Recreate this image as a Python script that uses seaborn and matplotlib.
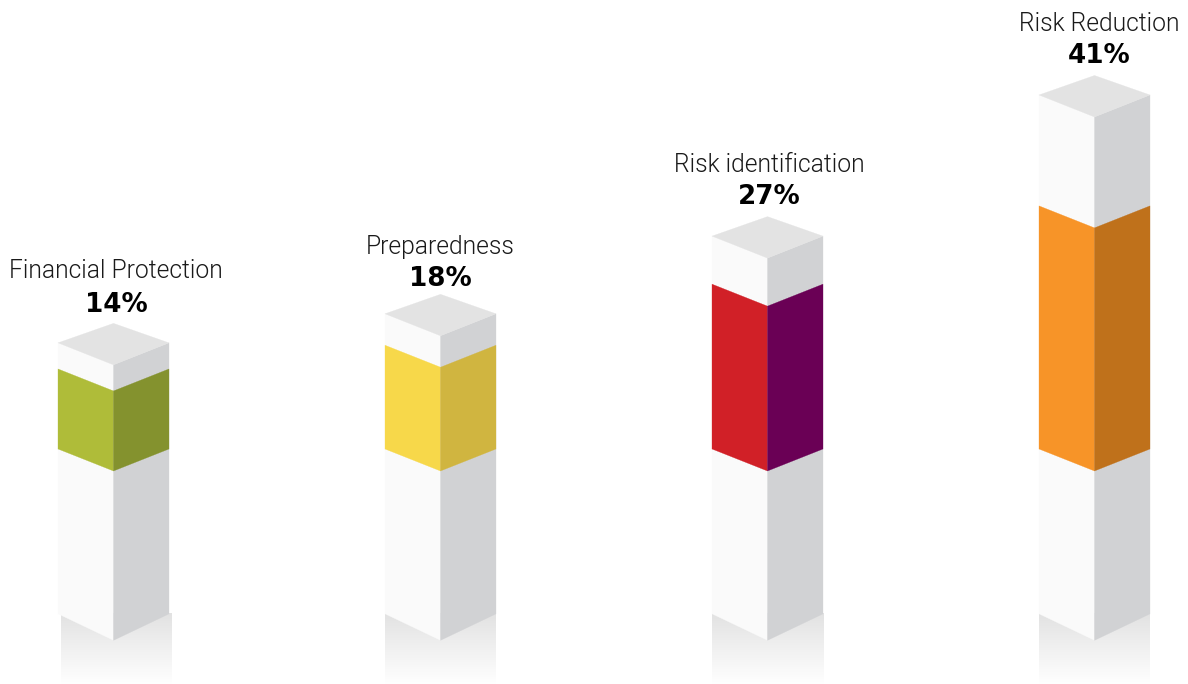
import numpy as np
import pandas as pd
import matplotlib
matplotlib.use('Agg')
import matplotlib.pyplot as plt
from matplotlib.colors import LinearSegmentedColormap
from matplotlib.patches import Polygon
import seaborn as sns

sns.set_style("white")
plt.rcParams['font.family'] = ['Roboto', 'DejaVu Sans']

categories = ['Financial Protection', 'Preparedness', 'Risk identification', 'Risk Reduction']
percent_labels = ['14%', '18%', '27%', '41%']

# heights, same unit as the 41% band
band_heights = [13.5, 17.5, 27.8, 41.0]
column_heights = [17.9, 22.8, 35.9, 59.7]
plinth_depths = [-27.8, -27.8, -27.8, -27.8]

band_front = ['#afbc39', '#f7d84a', '#d12027', '#f79428']
band_side = ['#84922e', '#d0b540', '#6a0055', '#bf711b']
white_front = '#fafafa'
white_side = '#d1d2d4'
white_top = '#e3e3e3'

# small per-column nudges, in pixels
text_dx = [2.5, 0, 1.5, 4.5]
percent_gap = [11, 8, 13, 12]
name_gap = [45, 40, 45, 44]
floor_shift = [3, 0, 0, 0]

PX = 5.93  # pixels per unit on the y axis
STEP = 327.0  # pixels between columns
DROP = 22 / PX  # front corner below the side corners
RISE = 19.5 / PX  # back corner of the lid

df = pd.DataFrame({'category': categories, 'band': band_heights,
                   'column': column_heights, 'plinth': plinth_depths})

fig = plt.figure(figsize=(11.88, 6.84), dpi=100)
ax = fig.add_axes([0, 0, 1, 1])


def faces(patch, front, side, top=None, low_drop=DROP):
    x0 = patch.get_x()
    x1 = x0 + patch.get_width()
    xm = (x0 + x1) / 2
    y0 = min(patch.get_y(), patch.get_y() + patch.get_height())
    y1 = max(patch.get_y(), patch.get_y() + patch.get_height())
    patch.set_visible(False)
    for pts, col in [([(x0, y0), (xm, y0 - low_drop), (xm, y1 - DROP), (x0, y1)], front),
                     ([(xm, y0 - low_drop), (x1, y0), (x1, y1), (xm, y1 - DROP)], side)]:
        ax.add_patch(Polygon(pts, closed=True, facecolor=col, edgecolor=col, lw=0.2, zorder=3))
    if top is not None:
        pts = [(x0, y1), (xm, y1 - DROP), (x1, y1), (xm, y1 + RISE)]
        ax.add_patch(Polygon(pts, closed=True, facecolor=top, edgecolor=top, lw=0.2, zorder=3))


# the bars give position and size of each column, the faces are sheared from them
bar_width = 111 / STEP
sns.barplot(data=df, x='category', y='column', color='white', width=bar_width, errorbar=None, ax=ax)
columns = list(ax.containers[-1])
sns.barplot(data=df, x='category', y='band', color='white', width=bar_width, errorbar=None, ax=ax)
bands = list(ax.containers[-1])
sns.barplot(data=df, x='category', y='plinth', color='white', width=bar_width, errorbar=None, ax=ax)
plinths = list(ax.containers[-1])

fade = LinearSegmentedColormap.from_list('fade', ['#e2e2e2', '#ffffff'])
for i in range(len(categories)):
    p = plinths[i]
    x0 = p.get_x() + floor_shift[i] / STEP
    y_low = p.get_height()
    # floor reflection
    ax.imshow(np.linspace(0, 1, 64).reshape(-1, 1), cmap=fade, aspect='auto', zorder=1,
              extent=(x0, x0 + p.get_width(), y_low - 71 / PX, y_low))
    faces(p, white_front, white_side, low_drop=26.5 / PX)
    faces(columns[i], white_front, white_side, white_top)
    faces(bands[i], band_front[i], band_side[i])

    top_y = column_heights[i] + RISE
    ax.annotate(percent_labels[i], (i, top_y), xytext=(text_dx[i] * 0.72, percent_gap[i] * 0.72),
                textcoords='offset points', ha='center', va='baseline', fontsize=18.8,
                fontweight='bold', family=['DejaVu Sans'], color='black', zorder=4)
    ax.annotate(categories[i], (i, top_y), xytext=(text_dx[i] * 0.72, name_gap[i] * 0.72),
                textcoords='offset points', ha='center', va='baseline', fontsize=17.7,
                fontweight=300, color='#1a1a1a', zorder=4)

ax.set_xlim(-113.5 / STEP, (1188 - 113.5) / STEP)
ax.set_ylim(-(684 - 449) / PX, 449 / PX)
ax.axis('off')

fig.savefig('out.png', dpi=100)
